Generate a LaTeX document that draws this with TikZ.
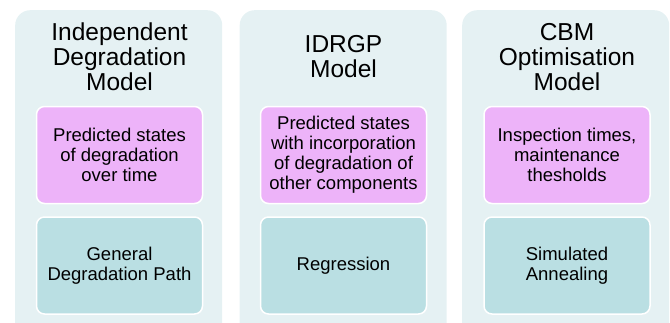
\documentclass[tikz,border=0pt]{standalone}
\usepackage{fontspec}
\setmainfont{Liberation Sans}
\definecolor{panelbg}{HTML}{E5F1F3}
\definecolor{pinkbox}{HTML}{EDB3F9}
\definecolor{tealbox}{HTML}{BADFE3}
\tikzset{
  panel/.style={rectangle, rounded corners=15pt, fill=panelbg, draw=none,
    minimum width=207pt, minimum height=340pt, inner sep=0pt, anchor=north west},
  title/.style={align=center, font=\fontsize{24.5}{25}\selectfont, text=black},
  outbox/.style={rectangle, rounded corners=8pt, fill=pinkbox, draw=white, line width=1.5pt,
    minimum width=166pt, minimum height=97pt, inner sep=0pt, align=center,
    font=\fontsize{18.5}{20}\selectfont},
  methodbox/.style={outbox, fill=tealbox},
}
\begin{document}
\begin{tikzpicture}[x=1pt, y=-1pt]
  \useasboundingbox (0,0) rectangle (670,322);
  \clip (0,0) rectangle (670,322);
  % three columns
  \node[panel] (p1) at (15,10) {};
  \node[panel] (p2) at (239.5,10) {};
  \node[panel] (p3) at (462,10) {};
  % column headings
  \node[title] (t1) at (119.5,57) {Independent\\Degradation\\Model};
  \node[title] (t2) at (343.5,57) {IDRGP\\Model};
  \node[title] (t3) at (567,57) {CBM\\Optimisation\\Model};
  % outputs
  \node[outbox] (o1) at (119.5,155) {Predicted states\\of degradation\\over time};
  \node[outbox] (o2) at (343.5,155) {Predicted states\\with incorporation\\of degradation of\\other components};
  \node[outbox] (o3) at (567,155) {Inspection times,\\maintenance\\thesholds};
  % methods
  \node[methodbox] (m1) at (119.5,265.5) {General\\Degradation Path};
  \node[methodbox] (m2) at (343.5,265.5) {Regression};
  \node[methodbox] (m3) at (567,265.5) {Simulated\\Annealing};
\end{tikzpicture}
\end{document}
